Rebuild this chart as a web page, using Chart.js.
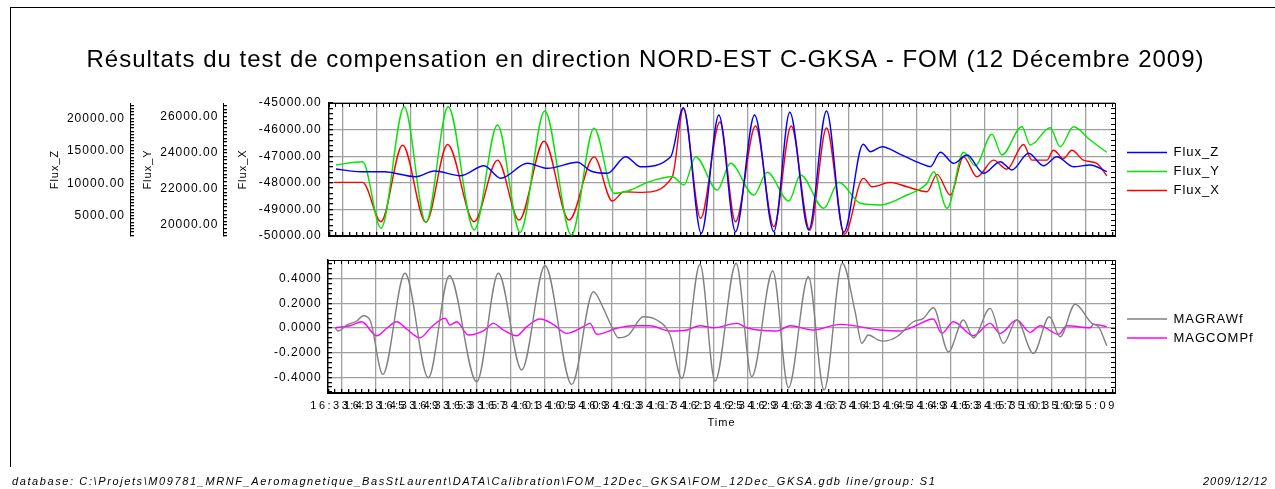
<!DOCTYPE html>
<html>
<head>
<meta charset="utf-8">
<script src="https://cdn.jsdelivr.net/npm/chart.js@4.4.1/dist/chart.umd.min.js"></script>
<style>
    html, body { margin: 0; padding: 0; background: #fff; }
    body { width: 1275px; height: 489px; position: relative; overflow: hidden; font-family: 'Liberation Sans', Arial, sans-serif; }
    .frame { position: absolute; left: 10px; top: 7px; width: 1270px; height: 459px; border-left: 1px solid #000; border-top: 1px solid #000; }
    .chart-box { position: absolute; left: 0; width: 1275px; }
    #top-box { top: 0; height: 245px; }
    #bottom-box { top: 245px; height: 244px; }
    .footer { position: absolute; top: 474px; font-style: italic; font-size: 11px; line-height: 14px; color: #000; white-space: nowrap; }
    #footer-left { left: 12px; letter-spacing: 1.6px; }
    #footer-right { right: 7px; letter-spacing: 1px; }
</style>
</head>
<body>
<div class="frame"></div>
<div class="chart-box" id="top-box"><canvas id="flux-chart"></canvas></div>
<div class="chart-box" id="bottom-box"><canvas id="mag-chart"></canvas></div>
<div class="footer" id="footer-left">database: C:\Projets\M09781_MRNF_Aeromagnetique_BasStLaurent\DATA\Calibration\FOM_12Dec_GKSA\FOM_12Dec_GKSA.gdb line/group: S1</div>
<div class="footer" id="footer-right">2009/12/12</div>
<script>
// Time axis: seconds after 16:33:41, one labelled tick every 4 s
const TIME_LABELS = [
    '16:33:41', '16:33:45', '16:33:49', '16:33:53', '16:33:57',
    '16:34:01', '16:34:05', '16:34:09', '16:34:13', '16:34:17',
    '16:34:21', '16:34:25', '16:34:29', '16:34:33', '16:34:37',
    '16:34:41', '16:34:45', '16:34:49', '16:34:53', '16:34:57',
    '16:35:01', '16:35:05', '16:35:09',
];
const TIME_MIN = -1.62;
const TIME_MAX = 91.5;

// Flux_Z (blue)
const fluxZTime = [-0.79, 2.17, 4.92, 8.67, 10.84, 14.0, 16.76, 18.73, 21.89, 24.26,
    27.81, 29.38, 31.36, 33.53, 35.3, 38.86, 40.36, 42.49, 44.57, 46.54,
    48.8, 51.08, 52.97, 55.22, 57.32, 59.37, 61.66, 62.53, 63.91, 66.07,
    68.44, 69.62, 70.81, 72.38, 73.96, 75.93, 77.9, 79.29, 81.26, 83.03,
    84.62, 86.58, 88.56, 90.53];
const fluxZ = [12192, 11776, 11776, 11006, 11884, 11160, 12700, 10760, 13070, 12300,
    13224, 11884, 11530, 14086, 12546, 14086, 21632, 2290, 20508, 2536,
    20508, 2536, 20924, 2798, 21124, 2444, 15996, 14856, 15626, 14456,
    13070, 12546, 14764, 13070, 14348, 11530, 13316, 12038, 14610, 12700,
    14086, 12546, 12808, 11776];

// Flux_Y (green)
const fluxYTime = [-0.79, 2.37, 4.54, 7.29, 9.86, 12.5, 15.58, 18.34, 21.02, 23.94,
    27.1, 29.78, 32.14, 34.12, 36.1, 39.05, 40.43, 41.81, 44.38, 45.95,
    48.71, 50.3, 52.86, 54.24, 57.0, 58.77, 61.34, 63.7, 66.86, 69.23,
    70.01, 71.6, 73.56, 74.95, 76.92, 78.1, 80.47, 81.46, 83.82, 85.0,
    86.58, 88.56, 90.53];
const fluxY = [23324, 23507, 19817, 26554, 20150, 26554, 19723, 25540, 19596, 26316,
    19446, 25357, 21756, 21939, 22366, 22676, 22216, 23784, 21939, 23418,
    21662, 22920, 21330, 22770, 20925, 22366, 21202, 21108, 21662, 22310,
    22953, 20925, 24028, 23285, 25025, 23878, 25446, 24432, 25391, 24338,
    25446, 24709, 24028];

// Flux_X (red)
const fluxXTime = [-1.03, 2.37, 4.53, 7.1, 9.86, 12.43, 15.57, 18.34, 20.9, 23.86,
    26.82, 29.78, 31.95, 33.33, 35.5, 39.05, 40.36, 42.4, 44.69, 46.54,
    48.91, 51.08, 53.14, 55.34, 57.32, 59.45, 61.34, 61.73, 62.72, 64.89,
    66.86, 69.23, 70.41, 71.99, 73.56, 75.15, 77.11, 78.7, 80.66, 81.66,
    83.43, 84.21, 85.4, 86.39, 87.76, 89.35, 90.53];
const fluxX = [-47985, -47985, -49463, -46586, -49485, -46560, -49463, -47149, -49399, -46436,
    -49399, -47025, -48686, -48338, -48360, -47775, -45210, -49335, -45713, -49463,
    -45863, -49650, -45863, -49774, -45938, -49935, -47963, -47835, -48150, -47985,
    -48150, -48338, -47685, -48461, -47025, -47775, -47149, -47486, -46560, -47149,
    -47149, -46774, -47085, -46774, -47149, -47273, -47738];

// MAGRAWf (grey)
const magRawTime = [-0.79, -0.4, 0.59, 1.78, 2.56, 3.35, 4.86, 7.49, 10.25, 12.74,
    15.98, 18.54, 21.3, 24.06, 27.22, 29.78, 30.96, 31.95, 32.74, 33.92,
    35.7, 37.28, 38.86, 40.24, 42.4, 44.18, 46.67, 48.52, 51.01, 52.86,
    55.22, 57.08, 59.24, 60.75, 61.54, 62.32, 63.51, 64.1, 65.68, 67.65,
    68.83, 70.01, 71.79, 73.56, 74.75, 76.72, 78.3, 79.88, 81.84, 83.73,
    85.0, 86.78, 88.76, 89.54, 90.53];
const magRaw = [0.002, -0.024, 0.024, 0.057, 0.100, 0.065, -0.376, 0.445, -0.404, 0.425,
    -0.437, 0.445, -0.341, 0.506, -0.458, 0.295, 0.160, 0.011, -0.079, -0.057,
    0.092, 0.065, -0.057, -0.409, 0.518, -0.431, 0.526, -0.396, 0.463, -0.485,
    0.417, -0.504, 0.526, 0.133, -0.124, -0.057, -0.098, -0.106, -0.071, 0.051,
    0.079, 0.165, -0.193, 0.065, -0.079, 0.160, -0.124, 0.065, -0.206, 0.092,
    -0.071, 0.193, 0.038, 0.011, -0.144];

// MAGCOMPf (magenta)
const magCompTime = [-0.79, 0.98, 2.37, 4.14, 5.33, 6.51, 7.69, 9.27, 10.65, 12.23,
    12.82, 13.61, 14.99, 16.76, 17.94, 19.13, 20.71, 21.89, 23.47, 25.04,
    26.63, 28.59, 29.38, 30.18, 32.54, 34.51, 36.48, 38.86, 40.84, 42.4,
    43.99, 46.75, 47.93, 51.48, 53.05, 55.81, 58.97, 63.7, 66.07, 67.65,
    70.01, 71.0, 72.38, 74.75, 76.72, 77.9, 79.88, 81.46, 82.64, 84.81,
    85.8, 88.56, 88.95, 90.53];
const magComp = [0.002, 0.019, 0.051, -0.063, -0.002, 0.051, -0.008, -0.079, 0.011, 0.079,
    0.024, 0.051, -0.057, -0.024, 0.038, -0.016, -0.063, 0.011, 0.073, 0.030,
    -0.043, 0.011, 0.038, -0.051, -0.002, 0.019, 0.019, -0.024, -0.016, 0.019,
    0.002, 0.038, 0.002, -0.024, 0.019, -0.016, 0.030, -0.016, -0.024, 0.011,
    0.073, -0.043, 0.051, -0.063, 0.038, -0.043, 0.065, -0.035, 0.019, -0.051,
    0.019, 0.002, 0.030, 0.011];

const FONT = "'Liberation Sans', Arial, sans-serif";
const GRID = '#a0a0a0';
const TICK_LEN = -4; // negative = ticks drawn inside the frame

Chart.defaults.font.family = FONT;
Chart.defaults.color = '#000';

const toPoints = (times, values) => times.map((t, i) => ({ x: t, y: values[i] }));

function isMajor(value, step) {
    const r = value / step;
    return Math.abs(r - Math.round(r)) < 1e-6;
}

// regular minor ticks aligned on multiples of step, between the axis limits
function stepTicks(step) {
    return (scale) => {
        const first = Math.ceil(scale.min / step - 1e-9);
        const last = Math.floor(scale.max / step + 1e-9);
        const ticks = [];
        for (let i = first; i <= last; i++) {
            ticks.push({ value: Math.round(i * step * 1e6) / 1e6 });
        }
        scale.ticks = ticks;
    };
}

function noOverflow(scale) {
    scale.paddingTop = 0;
    scale.paddingBottom = 0;
    scale.paddingLeft = 0;
    scale.paddingRight = 0;
}

// ============================================================
// SHARED PIECES
// ============================================================

const textSpacing = {
    id: 'textSpacing',
    beforeDraw(chart) { chart.ctx.letterSpacing = '1px'; },
};

// the time labels are wide and overlap each other, as in the original plot
const wideTimeLabels = {
    id: 'wideTimeLabels',
    afterUpdate(chart) {
        const scale = chart.scales.x;
        if (!scale || scale.wideLabels) return;
        const drawLabels = scale.drawLabels;
        scale.drawLabels = function (area) {
            const ctx = this.ctx;
            ctx.letterSpacing = '2.5px';
            drawLabels.call(this, area);
            ctx.letterSpacing = '1px';
        };
        scale.wideLabels = true;
    },
};

// legend column of fixed width, nudged down a little
function fixedLegend(width, dy) {
    return {
        id: 'fixedLegend',
        beforeInit(chart) {
            const fit = chart.legend.fit;
            chart.legend.fit = function () {
                fit.call(this);
                this.width = width;
            };
        },
        afterLayout(chart) {
            chart.legend.top += dy;
            chart.legend.bottom += dy;
        },
    };
}

const legendOptions = {
    position: 'right',
    align: 'center',
    fullSize: false,
    labels: {
        usePointStyle: true,
        pointStyle: 'line',
        pointStyleWidth: 40,
        padding: 6,
        color: '#000',
        font: { size: 13 },
    },
};

function timeAxis(showLabels) {
    return {
        type: 'linear',
        position: 'bottom',
        min: TIME_MIN,
        max: TIME_MAX,
        afterBuildTicks: stepTicks(0.8),
        ticks: {
            display: showLabels,
            autoSkip: false,
            maxRotation: 0,
            padding: 10,
            font: { size: 11 },
            callback: (v) => isMajor(v, 4) ? (TIME_LABELS[Math.round(v / 4)] || '') : '',
        },
        grid: {
            color: (c) => c.tick && isMajor(c.tick.value, 4) ? GRID : 'transparent',
            lineWidth: 1.3,
            tickColor: '#000',
            tickLength: TICK_LEN,
        },
        border: { color: '#000', width: 2 },
    };
}

function frameAxis(position, min, max, step) {
    return {
        type: 'linear',
        position,
        min,
        max,
        afterBuildTicks: stepTicks(step),
        ticks: { display: false, autoSkip: false },
        grid: { drawOnChartArea: false, tickColor: '#000', tickLength: TICK_LEN },
        border: { color: '#000', width: 1 },
        afterFit: (s) => {
            if (position === 'top') s.height = 0;
            else s.width = 6;
            noOverflow(s);
        },
    };
}

function valueAxis(opts) {
    return {
        type: 'linear',
        position: 'left',
        weight: opts.weight,
        min: opts.min,
        max: opts.max,
        afterBuildTicks: stepTicks(opts.minor),
        title: {
            display: !!opts.title,
            text: opts.title,
            color: '#000',
            font: { size: 11 },
            padding: { top: opts.titleOffset, bottom: 0 },
        },
        ticks: {
            autoSkip: false,
            padding: opts.labelPad,
            color: '#000',
            font: { size: 12 },
            callback: (v) => isMajor(v, opts.major) ? v.toFixed(opts.decimals) : '',
        },
        grid: {
            drawOnChartArea: !!opts.gridOnArea,
            color: (c) => c.tick && isMajor(c.tick.value, opts.major) ? GRID : 'transparent',
            lineWidth: 1.3,
            tickColor: '#000',
            tickLength: TICK_LEN,
        },
        border: { color: '#000', width: opts.borderWidth || 1 },
        afterFit: (s) => {
            s.width = opts.width;
            noOverflow(s);
        },
    };
}

function lineSet(label, times, values, color, yAxisID) {
    return {
        label,
        data: toPoints(times, values),
        borderColor: color,
        backgroundColor: color,
        borderWidth: 1.4,
        pointRadius: 0,
        fill: false,
        cubicInterpolationMode: 'monotone',
        xAxisID: 'x',
        yAxisID,
    };
}

// ============================================================
// FLUX CHART (top)
// ============================================================

const fluxScaleX = timeAxis(false);
fluxScaleX.afterFit = (s) => { s.height = 0; noOverflow(s); };

new Chart(document.getElementById('flux-chart'), {
    type: 'line',
    data: {
        datasets: [
            lineSet('Flux_Z', fluxZTime, fluxZ, '#0000ff', 'fluxZ'),
            lineSet('Flux_Y', fluxYTime, fluxY, '#00e600', 'fluxY'),
            lineSet('Flux_X', fluxXTime, fluxX, '#ff0000', 'fluxX'),
        ],
    },
    options: {
        responsive: true,
        maintainAspectRatio: false,
        animation: false,
        layout: { padding: { left: 16, right: 0, top: 0, bottom: 9 } },
        plugins: {
            title: {
                display: true,
                text: 'Résultats du test de compensation en direction NORD-EST C-GKSA - FOM (12 Décembre 2009)',
                color: '#000',
                font: { size: 24, weight: 'normal' },
                padding: { top: 46, bottom: 28.2 },
            },
            legend: legendOptions,
            tooltip: { enabled: false },
        },
        scales: {
            x: fluxScaleX,
            xTop: frameAxis('top', TIME_MIN, TIME_MAX, 0.8),
            fluxZ: valueAxis({ weight: 3, min: 1870, max: 22360, major: 5000, minor: 500, decimals: 2,
                title: 'Flux_Z', titleOffset: 32.4, labelPad: 9, width: 114 }),
            fluxY: valueAxis({ weight: 2, min: 19390, max: 26760, major: 2000, minor: 200, decimals: 2,
                title: 'Flux_Y', titleOffset: 11.4, labelPad: 8.7, width: 93 }),
            fluxX: valueAxis({ weight: 1, min: -50000, max: -45000, major: 1000, minor: 200, decimals: 2,
                title: 'Flux_X', titleOffset: 13.4, labelPad: 11.3, width: 106, gridOnArea: true, borderWidth: 1.5 }),
            right: frameAxis('right', -50000, -45000, 200),
        },
    },
    plugins: [textSpacing, fixedLegend(154, 2)],
});

// ============================================================
// MAG CHART (bottom)
// ============================================================

const magScaleX = timeAxis(true);
magScaleX.title = {
    display: true,
    text: 'Time',
    color: '#000',
    font: { size: 11 },
    padding: { top: 0, bottom: 3 },
};
magScaleX.afterFit = (s) => { s.height = 40; noOverflow(s); };

new Chart(document.getElementById('mag-chart'), {
    type: 'line',
    data: {
        datasets: [
            lineSet('MAGRAWf', magRawTime, magRaw, '#808080', 'y'),
            lineSet('MAGCOMPf', magCompTime, magComp, '#ff00ff', 'y'),
        ],
    },
    options: {
        responsive: true,
        maintainAspectRatio: false,
        animation: false,
        layout: { padding: { left: 0, right: 0, top: 15, bottom: 56 } },
        plugins: {
            legend: legendOptions,
            tooltip: { enabled: false },
        },
        scales: {
            x: magScaleX,
            xTop: frameAxis('top', TIME_MIN, TIME_MAX, 0.8),
            y: valueAxis({ weight: 1, min: -0.528, max: 0.553, major: 0.2, minor: 0.04, decimals: 4,
                labelPad: 10.3, width: 328, gridOnArea: true, borderWidth: 1.5 }),
            right: frameAxis('right', -0.528, 0.553, 0.04),
        },
    },
    plugins: [textSpacing, wideTimeLabels, fixedLegend(154, 2)],
});
</script>
</body>
</html>
